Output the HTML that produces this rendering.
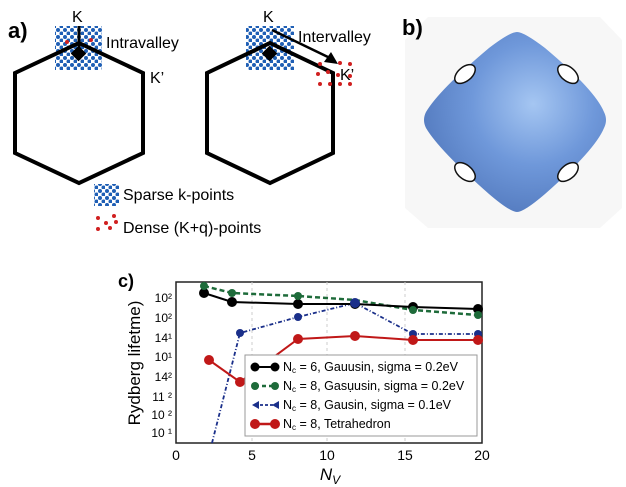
<!DOCTYPE html>
<html><head><style>
html,body{margin:0;padding:0;background:#fff;}
svg{display:block;font-family:"Liberation Sans",sans-serif;}
</style></head><body>
<svg width="626" height="487" viewBox="0 0 626 487">
<defs>
<pattern id="bl" width="7" height="7" patternUnits="userSpaceOnUse"><circle cx="2" cy="2" r="2" fill="#1f5fb5"/><circle cx="5.5" cy="5.5" r="2" fill="#1f5fb5"/></pattern>
<radialGradient id="sg" cx="0.6" cy="0.4" r="0.75"><stop offset="0" stop-color="#a5c6f2"/><stop offset="0.45" stop-color="#6f98da"/><stop offset="1" stop-color="#4a70b5"/></radialGradient>
</defs>
<!-- panel a -->
<text x="8" y="38" font-size="22" font-weight="bold">a)</text>
<rect x="55" y="26" width="47" height="44" fill="url(#bl)"/>
<circle cx="67" cy="42" r="2" fill="#d02020"/><circle cx="91" cy="40" r="2" fill="#d02020"/>
<polygon points="79,43 143,73 143,153 79,183 15,153 15,73" fill="none" stroke="#000" stroke-width="4"/>
<line x1="79" y1="26" x2="79" y2="48" stroke="#000" stroke-width="3"/>
<rect x="73" y="48" width="11" height="11" transform="rotate(45 78.5 53.5)" fill="#000"/>
<text x="72" y="22" font-size="16">K</text>
<text x="106" y="48" font-size="16">Intravalley</text>
<text x="150" y="83" font-size="16">K’</text>
<rect x="246" y="26" width="48" height="44" fill="url(#bl)"/>
<polygon points="270,43 333,73 333,153 270,183 207,153 207,73" fill="none" stroke="#000" stroke-width="4"/>
<rect x="264" y="48" width="11" height="11" transform="rotate(45 269.5 53.5)" fill="#000"/>
<line x1="272" y1="30" x2="330" y2="58" stroke="#000" stroke-width="2.5"/>
<polygon points="338,64 324,62 331,52" fill="#000"/>
<text x="263" y="22" font-size="16">K</text>
<text x="298" y="42" font-size="16">Intervalley</text>
<g fill="#d02020"><circle cx="320" cy="64" r="2"/><circle cx="340" cy="63" r="2"/><circle cx="350" cy="64" r="2"/><circle cx="318" cy="74" r="2"/><circle cx="328" cy="72" r="2"/><circle cx="338" cy="75" r="2"/><circle cx="350" cy="76" r="2"/><circle cx="320" cy="84" r="2"/><circle cx="330" cy="84" r="2"/><circle cx="340" cy="84" r="2"/><circle cx="350" cy="84" r="2"/></g>
<text x="340" y="80" font-size="16">K’</text>
<rect x="94" y="184" width="25" height="22" fill="url(#bl)"/>
<text x="123" y="200" font-size="16">Sparse k-points</text>
<g fill="#d02020"><circle cx="98" cy="218" r="2"/><circle cx="106" cy="223" r="2"/><circle cx="114" cy="216" r="2"/><circle cx="98" cy="229" r="2"/><circle cx="110" cy="228" r="2"/><circle cx="116" cy="222" r="2"/></g>
<text x="123" y="233" font-size="16">Dense (K+q)-points</text>
<!-- panel b -->
<polygon points="428,17 600,17 622,40 622,208 600,228 428,228 405,208 405,40" fill="#f7f7f7"/>
<text x="402" y="35" font-size="22" font-weight="bold">b)</text>
<path d="M517,32 Q524,32 545,48 Q595,90 604,112 Q608,120 604,128 Q595,150 545,194 Q524,212 517,212 Q510,212 489,194 Q439,150 426,128 Q422,120 426,112 Q439,90 489,48 Q510,32 517,32Z" fill="url(#sg)"/>
<g fill="#fff" stroke="#111" stroke-width="1.5"><ellipse cx="465" cy="74" rx="12" ry="7" transform="rotate(-40 465 74)"/><ellipse cx="568" cy="74" rx="12" ry="7" transform="rotate(40 568 74)"/><ellipse cx="465" cy="172" rx="12" ry="7" transform="rotate(40 465 172)"/><ellipse cx="568" cy="172" rx="12" ry="7" transform="rotate(-40 568 172)"/></g>
<!-- panel c -->
<text x="118" y="287" font-size="18" font-weight="bold">c)</text>
<rect x="176" y="282" width="306" height="161" fill="#fff" stroke="#222" stroke-width="1.5"/>
<g stroke="#ccc" stroke-dasharray="3,3"><line x1="252" y1="282" x2="252" y2="443"/><line x1="327" y1="282" x2="327" y2="443"/><line x1="405" y1="282" x2="405" y2="443"/></g>
<g font-size="12" text-anchor="end"><text x="172" y="302">10²</text><text x="172" y="322">10²</text><text x="172" y="342">14¹</text><text x="172" y="361">10¹</text><text x="172" y="381">14²</text><text x="172" y="401">11 ²</text><text x="172" y="419">10 ²</text><text x="172" y="437">10 ¹</text></g>
<g font-size="14" text-anchor="middle"><text x="176" y="460">0</text><text x="252" y="460">5</text><text x="327" y="460">10</text><text x="405" y="460">15</text><text x="482" y="460">20</text></g>
<text x="330" y="480" font-size="17" font-style="italic" text-anchor="middle">N<tspan font-size="12" dy="4">V</tspan></text>
<text transform="translate(140 363) rotate(-90)" font-size="17" text-anchor="middle">Rydberg lifetme)</text>
<polyline points="212,443 240,333 298,317 355,303 413,334 478,334" fill="none" stroke="#1a2f8a" stroke-width="1.8" stroke-dasharray="4,2,1,2"/>
<polyline points="204,286 232,293 298,296 355,300 413,310 478,315" fill="none" stroke="#1e6b3a" stroke-width="2.5" stroke-dasharray="5,3"/>
<polyline points="204,293 232,302 298,304 355,304 413,307 478,309" fill="none" stroke="#000" stroke-width="2"/>
<polyline points="209,360 240,382 298,339 355,336 413,340 478,340" fill="none" stroke="#c01818" stroke-width="2"/>
<g fill="#000"><circle cx="204" cy="293" r="5"/><circle cx="232" cy="302" r="5"/><circle cx="298" cy="304" r="5"/><circle cx="355" cy="304" r="5"/><circle cx="413" cy="307" r="5"/><circle cx="478" cy="309" r="5"/></g>
<g fill="#1e6b3a"><circle cx="204" cy="286" r="4"/><circle cx="232" cy="293" r="4"/><circle cx="298" cy="296" r="4"/><circle cx="413" cy="310" r="4"/><circle cx="478" cy="315" r="4"/></g>
<g fill="#1a2f8a"><circle cx="240" cy="333" r="4"/><circle cx="298" cy="317" r="4"/><circle cx="355" cy="303" r="5"/><circle cx="413" cy="334" r="4"/><circle cx="478" cy="334" r="4"/></g>
<g fill="#c01818"><circle cx="209" cy="360" r="5"/><circle cx="240" cy="382" r="5"/><circle cx="298" cy="339" r="5"/><circle cx="355" cy="336" r="5"/><circle cx="413" cy="340" r="5"/><circle cx="478" cy="340" r="5"/></g>
<rect x="245" y="355" width="232" height="81" fill="#fff" stroke="#999"/>
<line x1="255" y1="367" x2="275" y2="367" stroke="#000" stroke-width="2"/><circle cx="255" cy="367" r="4.5"/><circle cx="275" cy="367" r="4.5"/>
<line x1="255" y1="386" x2="275" y2="386" stroke="#1e6b3a" stroke-width="2.5" stroke-dasharray="4,3"/><circle cx="255" cy="386" r="4" fill="#1e6b3a"/><circle cx="275" cy="386" r="4" fill="#1e6b3a"/>
<line x1="255" y1="405" x2="275" y2="405" stroke="#1a2f8a" stroke-width="1.8" stroke-dasharray="3,2"/><polygon points="252,405 259,401 259,409" fill="#1a2f8a"/><polygon points="272,405 279,401 279,409" fill="#1a2f8a"/>
<line x1="255" y1="424" x2="275" y2="424" stroke="#c01818" stroke-width="2.5"/><circle cx="255" cy="424" r="5" fill="#c01818"/><circle cx="275" cy="424" r="5" fill="#c01818"/>
<g font-size="12.5"><text x="283" y="371">N<tspan font-size="8" dy="2">c</tspan><tspan dy="-2"> = 6, Gauusin, sigma = 0.2eV</tspan></text>
<text x="283" y="390">N<tspan font-size="8" dy="2">c</tspan><tspan dy="-2"> = 8, Gasụusin, sigma = 0.2eV</tspan></text>
<text x="283" y="409">N<tspan font-size="8" dy="2">c</tspan><tspan dy="-2"> = 8, Gausin, sigma = 0.1eV</tspan></text>
<text x="283" y="428">N<tspan font-size="8" dy="2">c</tspan><tspan dy="-2"> = 8, Tetrahedron</tspan></text></g>
</svg>
</body></html>
